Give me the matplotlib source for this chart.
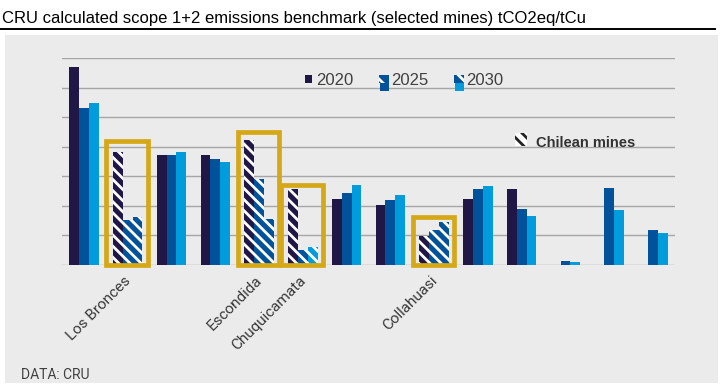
import matplotlib
matplotlib.use("Agg")
import numpy as np
import matplotlib.pyplot as plt
import matplotlib.transforms as mtransforms
from matplotlib.patches import Rectangle
from matplotlib.lines import Line2D

# data (tCO2eq/tCu)
mines = ["", "Los Bronces", "", "", "Escondida", "Chuquicamata", "", "",
         "Collahuasi", "", "", "", "", ""]
v2020 = [6.72, 3.84, 3.73, 3.73, 4.23, 2.58, 2.24, 2.03, 0.99, 2.24, 2.59, 0, 0, 0]
v2025 = [5.32, 1.54, 3.73, 3.59, 2.90, 0.51, 2.45, 2.20, 1.19, 2.59, 1.90, 0.14, 2.62, 1.19]
v2030 = [5.50, 1.62, 3.83, 3.49, 1.56, 0.61, 2.71, 2.37, 1.46, 2.68, 1.66, 0.10, 1.86, 1.08]
chilean = [False, True, False, False, True, True, False, False, True,
           False, False, False, False, False]
box_tops = {1: 4.19, 4: 4.52, 5: 2.71, 8: 1.64}

c2020, c2025, c2030 = "#201747", "#00529b", "#009cdc"
gold = "#d5a817"
# hatched 2030 bars are drawn in mid blue except Chuquicamata
hatch2030 = {1: c2025, 4: c2025, 5: c2030, 8: c2025}

plt.rcParams["font.family"] = ["Liberation Sans", "DejaVu Sans"]
plt.rcParams["hatch.linewidth"] = 2.0

W, H = 724, 391
fig = plt.figure(figsize=(W / 100, H / 100), dpi=100)


def fx(px):
    return px / W


def fy(py):
    return 1 - py / H


def rect_px(x0, y0, x1, y1, **kw):
    r = Rectangle((fx(x0), fy(y1)), fx(x1) - fx(x0), fy(y0) - fy(y1),
                  transform=fig.transFigure, **kw)
    fig.add_artist(r)
    return r


# grey panel
rect_px(5, 35, 718, 383, facecolor="#ebebeb", edgecolor="none", zorder=-1)

ax = fig.add_axes([fx(62), fy(265), fx(675) - fx(62), fy(58.3) - fy(265)])
ax.set_facecolor("none")
n = len(mines)
x = np.arange(n)
w = 0.224
chil = np.array(chilean)
solid = ~chil

for k, (vals, col) in enumerate([(v2020, c2020), (v2025, c2025), (v2030, c2030)]):
    vals = np.array(vals)
    off = (k - 1) * w
    ax.bar(x[solid] + off, vals[solid], w, color=col, linewidth=0, zorder=2)
    if k == 2:
        cols = [hatch2030[i] for i in x[chil]]
    else:
        cols = col
    ax.bar(x[chil] + off, vals[chil], w, color=cols, edgecolor="white",
           linewidth=0, hatch="\\\\\\", zorder=2)

for i, top in box_tops.items():
    ax.add_patch(Rectangle((i - 0.49, 0), 0.95, top, fill=False, edgecolor=gold,
                           linewidth=3.4, clip_on=False, zorder=4))

ax.set_xlim(-0.5, n - 0.5)
ax.set_ylim(0, 7)
ax.set_yticks(range(8))
ax.yaxis.grid(True, color="#a6a6a6", linewidth=1.0)
ax.set_axisbelow(True)
ax.tick_params(axis="y", length=0, labelleft=False)
ax.set_xticks(x)
ax.set_xticklabels(mines, rotation=45, ha="right", rotation_mode="anchor",
                   fontsize=11, color="#3a3a3a", family="Roboto")
ax.tick_params(axis="x", length=0, pad=6)
shift = mtransforms.ScaledTranslation(-4 / 100, 0, fig.dpi_scale_trans)
for lab in ax.get_xticklabels():
    lab.set_transform(lab.get_transform() + shift)
for s in ax.spines.values():
    s.set_visible(False)

# title and rule
fig.text(fx(2), fy(22.7), "CRU calculated scope 1+2 emissions benchmark (selected mines) tCO2eq/tCu",
         fontsize=12, va="baseline", ha="left", color="black")
fig.add_artist(Line2D([fx(0), fx(715)], [fy(29), fy(29)], transform=fig.transFigure,
                      color="black", linewidth=1.4))

# legend
rect_px(305, 75, 312, 83, facecolor=c2020, edgecolor="none")
fig.text(fx(316.5), fy(85.3), "2020", fontsize=12, color="#404040", va="baseline")
for xm, col, label in [(379.5, c2025, "2025"), (454, c2030, "2030")]:
    rect_px(xm, 75, xm + 9.5, 82.5, facecolor=c2025, edgecolor="white", linewidth=0,
            hatch="\\\\")
    rect_px(xm + 0.5, 82.5, xm + 9.5, 90.7, facecolor=col, edgecolor="none")
    fig.text(fx(xm + 12), fy(85.3), label, fontsize=12, color="#404040", va="baseline")

rect_px(515, 133.5, 527, 146.5, facecolor="white", edgecolor="#222222", linewidth=0,
        hatch="\\\\\\")
fig.text(fx(536.5), fy(146.7), "Chilean mines", fontsize=10.5, fontweight="bold",
         color="#333333", va="baseline")

fig.text(fx(20.7), fy(379), "DATA: CRU", fontsize=10, color="#404040", va="baseline",
         family="Roboto")

fig.savefig("out.png", dpi=100)
